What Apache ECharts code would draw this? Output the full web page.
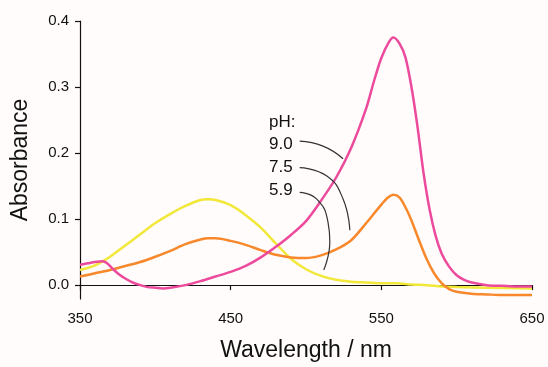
<!DOCTYPE html>
<html>
<head>
<meta charset="utf-8">
<script src="https://cdn.jsdelivr.net/npm/echarts@6/dist/echarts.min.js"></script>
<style>
  html, body { margin: 0; padding: 0; background: #fffcfb; }
  #chart { width: 548px; height: 367px; }
</style>
</head>
<body>
<div id="chart"></div>
<script>
// pH 9.0 (magenta)
const wl90 = [350, 355, 360, 365, 368, 372, 376, 380, 385, 390, 395, 400, 405, 410, 420, 430, 440, 450, 460, 470, 480, 490, 500, 510, 520, 530, 540, 545, 550, 555, 558, 562, 566, 570, 574, 578, 582, 586, 590, 595, 600, 605, 610, 620, 630, 640, 650]
const abs90 = [0.031, 0.033, 0.035, 0.036, 0.033, 0.024, 0.016, 0.010, 0.004, 0.000, -0.003, -0.004, -0.005, -0.004, 0.000, 0.006, 0.013, 0.020, 0.029, 0.042, 0.058, 0.076, 0.097, 0.128, 0.163, 0.208, 0.268, 0.308, 0.344, 0.368, 0.375, 0.366, 0.345, 0.300, 0.240, 0.170, 0.115, 0.075, 0.048, 0.028, 0.015, 0.008, 0.004, 0.000, -0.001, -0.002, -0.002]

// pH 7.5 (orange)
const wl75 = [350, 360, 370, 380, 390, 400, 410, 420, 430, 435, 440, 450, 460, 470, 480, 490, 500, 510, 520, 530, 540, 545, 550, 554, 558, 562, 566, 570, 575, 580, 585, 590, 595, 600, 610, 620, 630, 640, 650]
const abs75 = [0.013, 0.018, 0.023, 0.029, 0.035, 0.043, 0.052, 0.062, 0.069, 0.071, 0.071, 0.067, 0.061, 0.053, 0.046, 0.042, 0.041, 0.045, 0.054, 0.068, 0.094, 0.108, 0.122, 0.132, 0.137, 0.133, 0.118, 0.098, 0.068, 0.040, 0.018, 0.003, -0.006, -0.010, -0.013, -0.014, -0.015, -0.015, -0.015]

// pH 5.9 (yellow)
const wl59 = [350, 355, 360, 365, 370, 380, 390, 400, 410, 420, 430, 435, 440, 450, 460, 470, 480, 490, 500, 510, 520, 530, 540, 550, 560, 570, 580, 590, 600, 620, 650]
const abs59 = [0.023, 0.026, 0.030, 0.036, 0.043, 0.060, 0.077, 0.094, 0.108, 0.120, 0.129, 0.130, 0.129, 0.121, 0.106, 0.087, 0.063, 0.040, 0.024, 0.014, 0.008, 0.005, 0.004, 0.003, 0.003, 0.001, 0.000, -0.002, -0.003, -0.004, -0.005]

const xTicks = [350, 450, 550, 650]
const yTicks = [0, 0.1, 0.2, 0.3, 0.4]

// annotation: pH labels and their leader arcs (in data units)
const phTitle = 'pH:'
const phLabels = ['9.0', '7.5', '5.9']
const labelWl = 475.5
const labelAbs = [0.2467, 0.213, 0.1777, 0.1432]
const leader90 = [[495.8, 0.218], [511.3, 0.2105], [524.6, 0.1915]]
const leader75 = [[495.8, 0.178], [513.6, 0.1655], [524.6, 0.1305], [529.1, 0.083]]
const leader59 = [[495.8, 0.1405], [507, 0.1305], [514.6, 0.0955], [515.8, 0.0655], [511.8, 0.023]]

const zip = (xs, ys) => xs.map((x, i) => [x, ys[i]])

const font = 'Liberation Sans, Arial, Helvetica, sans-serif'
const ink = '#111'

const chart = echarts.init(document.getElementById('chart'), null, { renderer: 'canvas' })

const spectrum = (name, data, color) => ({
  name,
  type: 'line',
  data,
  smooth: 0.3,
  showSymbol: false,
  symbol: 'none',
  lineStyle: { color, width: 2.5 },
  z: 3,
})

const leader = data => ({
  type: 'line',
  data,
  smooth: true,
  showSymbol: false,
  symbol: 'none',
  lineStyle: { color: '#333', width: 1.2 },
  z: 4,
})

const labelPoints = [phTitle].concat(phLabels).map((t, i) => ({
  value: [labelWl, labelAbs[i]],
  name: t,
}))

chart.setOption({
  backgroundColor: '#fffcfb',
  animation: false,
  grid: { left: 80, right: 16, top: 21, bottom: 66 },
  xAxis: {
    type: 'value',
    min: 350,
    max: 650,
    interval: 100,
    name: 'Wavelength / nm',
    nameLocation: 'middle',
    nameGap: 40,
    nameTextStyle: { fontFamily: font, fontSize: 23, color: ink },
    axisLine: { show: true, lineStyle: { color: ink, width: 1.2 } },
    axisTick: { show: true, length: 5, lineStyle: { color: ink, width: 1.2 }, customValues: xTicks },
    axisLabel: { margin: 12, fontFamily: font, fontSize: 15, color: ink, customValues: xTicks },
    splitLine: { show: false },
  },
  yAxis: {
    type: 'value',
    min: -0.021,
    max: 0.4,
    name: 'Absorbance',
    nameLocation: 'middle',
    nameGap: 48,
    nameTextStyle: { fontFamily: font, fontSize: 23, color: ink },
    axisLine: { show: true, lineStyle: { color: ink, width: 1.2 } },
    axisTick: { show: true, length: 5, lineStyle: { color: ink, width: 1.2 }, customValues: yTicks },
    axisLabel: {
      margin: 11,
      fontFamily: font,
      fontSize: 15,
      color: ink,
      customValues: yTicks,
      formatter: v => v.toFixed(1),
    },
    splitLine: { show: false },
  },
  series: [
    spectrum('pH 5.9', zip(wl59, abs59), '#f1e83a'),
    spectrum('pH 7.5', zip(wl75, abs75), '#f7882c'),
    spectrum('pH 9.0', zip(wl90, abs90), '#ec4a9c'),
    leader(leader90),
    leader(leader75),
    leader(leader59),
    {
      type: 'scatter',
      data: labelPoints,
      symbolSize: 0,
      z: 5,
      itemStyle: { opacity: 1 },
      label: {
        show: true,
        position: 'right',
        distance: 0,
        formatter: p => p.name,
        fontFamily: font,
        fontSize: 17,
        color: ink,
        opacity: 1,
      },
    },
  ],
})
</script>
</body>
</html>
